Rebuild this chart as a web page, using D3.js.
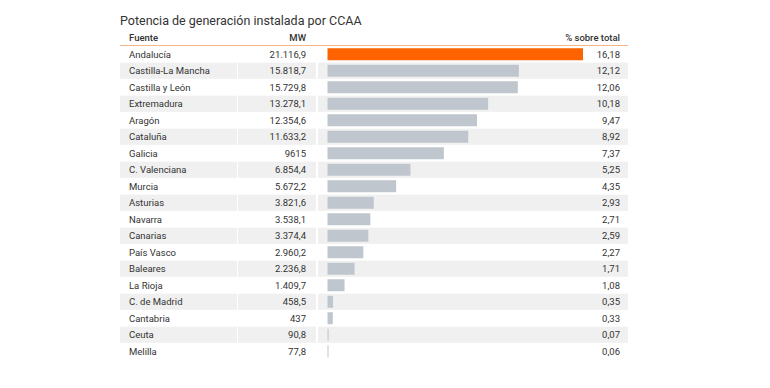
<!DOCTYPE html>
<html>
<head>
<meta charset="utf-8">
<script src="https://cdn.jsdelivr.net/npm/d3@7"></script>
<style>
  body { margin: 0; background: #fff; }
  text { font-family: Roboto, "Noto Sans", sans-serif; fill: #333; }
</style>
</head>
<body>
<svg width="770" height="388"></svg>
<script>
// potencia instalada por comunidad autónoma
var regions = ["Andalucía", "Castilla-La Mancha", "Castilla y León", "Extremadura", "Aragón",
  "Cataluña", "Galicia", "C. Valenciana", "Murcia", "Asturias", "Navarra", "Canarias",
  "País Vasco", "Baleares", "La Rioja", "C. de Madrid", "Cantabria", "Ceuta", "Melilla"];
var mw = [21116.9, 15818.7, 15729.8, 13278.1, 12354.6, 11633.2, 9615, 6854.4, 5672.2,
  3821.6, 3538.1, 3374.4, 2960.2, 2236.8, 1409.7, 458.5, 437, 90.8, 77.8];
var pct = [16.18, 12.12, 12.06, 10.18, 9.47, 8.92, 7.37, 5.25, 4.35, 2.93, 2.71, 2.59,
  2.27, 1.71, 1.08, 0.35, 0.33, 0.07, 0.06];
var headers = ["Fuente", "MW", "% sobre total"];
var title = "Potencia de generación instalada por CCAA";

var svg = d3.select("svg");
var left = 120, right = 628, top0 = 46;

var y = d3.scaleBand()
  .domain(regions)
  .range([top0, top0 + 16.5 * regions.length])
  .paddingInner(0.08).paddingOuter(0.04);

var x = d3.scaleLinear()
  .domain([0, d3.max(mw)])
  .range([327.5, 583]);

function fmtMW(v) {
  // formato español: punto para miles, coma decimal
  var s = Number.isInteger(v) ? String(v) : v.toFixed(1);
  var parts = s.split(".");
  var int = parts[0];
  if (int.length > 4) int = int.replace(/\B(?=(\d{3})+(?!\d))/g, ".");
  else if (int.length == 4 && parts.length > 1) int = int[0] + "." + int.slice(1);
  return parts.length > 1 ? int + "," + parts[1] : int;
}

svg.append("text")
  .attr("x", left).attr("y", 25)
  .style("font-size", "12.5px")
  .text(title);

// cabecera
svg.append("text").attr("x", 129).attr("y", 41).style("font-size", "9.5px").style("font-weight", 500).text(headers[0]);
svg.append("text").attr("x", 306).attr("y", 41).attr("text-anchor", "end").style("font-size", "9.5px").style("font-weight", 500).text(headers[1]);
svg.append("text").attr("x", 620).attr("y", 41).attr("text-anchor", "end").style("font-size", "9.5px").style("font-weight", 500).text(headers[2]);
svg.append("line")
  .attr("x1", left).attr("x2", right).attr("y1", 45.5).attr("y2", 45.5)
  .attr("stroke", "#f7b58a").attr("stroke-width", 1.2);

var rows = svg.selectAll("g.row")
  .data(regions)
  .enter().append("g")
  .attr("class", "row");

// franjas alternas
var cells = [[left, 237], [238, 316], [318, right]];
rows.filter(function(d, i) { return i % 2 == 1; })
  .each(function(d) {
    var g = d3.select(this);
    cells.forEach(function(c) {
      g.append("rect")
        .attr("x", c[0]).attr("width", c[1] - c[0])
        .attr("y", y(d) - 0.5).attr("height", y.bandwidth() + 1)
        .attr("fill", "#f0f0f0");
    });
  });

rows.append("text")
  .attr("x", 129)
  .attr("y", function(d) { return y(d) + y.bandwidth() / 2 + 3.5; })
  .style("font-size", "9.5px")
  .text(function(d) { return d; });

rows.append("text")
  .attr("x", 306).attr("text-anchor", "end")
  .attr("y", function(d) { return y(d) + y.bandwidth() / 2 + 3.5; })
  .style("font-size", "9.5px")
  .text(function(d, i) { return fmtMW(mw[i]); });

rows.append("rect")
  .attr("x", x(0))
  .attr("y", function(d) { return y(d) + y.bandwidth() / 2 - 6; })
  .attr("height", 12)
  .attr("width", function(d, i) { return Math.max(1, x(mw[i]) - x(0)); })
  .attr("fill", function(d, i) { return i == 0 ? "#ff6300" : "#c0c6cd"; });

rows.append("text")
  .attr("x", 620).attr("text-anchor", "end")
  .attr("y", function(d) { return y(d) + y.bandwidth() / 2 + 3.5; })
  .style("font-size", "9.5px")
  .text(function(d, i) { return pct[i].toFixed(2).replace(".", ","); });
</script>
</body>
</html>
